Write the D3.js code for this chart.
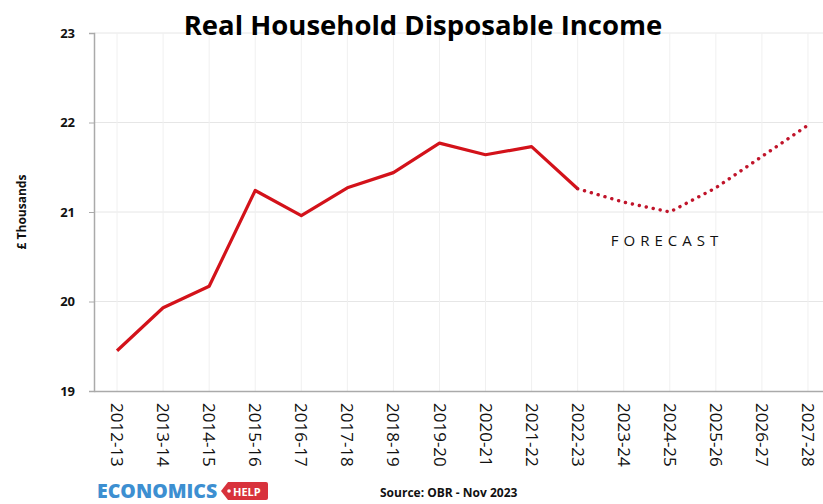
<!DOCTYPE html>
<html>
<head>
<meta charset="utf-8">
<script src="https://cdn.jsdelivr.net/npm/d3@7"></script>
<style>
  body { margin: 0; background: #fff; }
  svg { display: block; font-family: "Open Sans", sans-serif; }
</style>
</head>
<body>
<div id="chart"></div>
<script>
const years = ["2012-13","2013-14","2014-15","2015-16","2016-17","2017-18","2018-19","2019-20",
  "2020-21","2021-22","2022-23","2023-24","2024-25","2025-26","2026-27","2027-28"];
const income = [19.45, 19.93, 20.17, 21.24, 20.96, 21.27, 21.44, 21.77,
  21.64, 21.73, 21.26, 21.11, 21.00, 21.27, 21.62, 21.97];
const lastActual = "2022-23";
const yTicks = [19, 20, 21, 22, 23];

const width = 823, height = 504;
const margin = {top: 33, left: 94, bottom: 113};

const svg = d3.select("#chart").append("svg")
    .attr("width", width)
    .attr("height", height);

const x = d3.scaleBand().domain(years).range([margin.left, 831]);
const y = d3.scaleLinear().domain([19, 23]).range([height - margin.bottom, margin.top]);
const cx = d => x(d) + x.bandwidth() / 2;

// grid
svg.append("g").selectAll("line.h")
  .data(yTicks.slice(1))
  .join("line")
    .attr("x1", margin.left).attr("x2", width)
    .attr("y1", d => y(d)).attr("y2", d => y(d))
    .attr("stroke", "#e6e6e6");
svg.append("g").selectAll("line.v")
  .data(years)
  .join("line")
    .attr("x1", cx).attr("x2", cx)
    .attr("y1", y(23)).attr("y2", y(19))
    .attr("stroke", "#f0f0f0");

// y axis
const yAxis = svg.append("g")
    .attr("transform", "translate(" + margin.left + ",0)")
    .call(d3.axisLeft(y).tickValues(yTicks).tickFormat(d3.format("d")).tickSize(5).tickPadding(14));
yAxis.select(".domain").attr("stroke", "#aaa").attr("stroke-width", 1.5);
yAxis.selectAll(".tick line").attr("stroke", "#aaa");
yAxis.selectAll("text")
    .style("font-size", "13px").style("font-weight", "bold")
    .style("font-family", "Open Sans").attr("fill", "#111");

// x axis
const xAxis = svg.append("g")
    .attr("transform", "translate(0," + y(19) + ")")
    .call(d3.axisBottom(x).tickSize(0).tickSizeOuter(0));
xAxis.select(".domain").attr("stroke", "#aaa").attr("stroke-width", 1.5);
xAxis.selectAll("text")
    .attr("transform", "rotate(90)")
    .attr("x", 12).attr("y", 0).attr("dy", "0.35em")
    .style("text-anchor", "start")
    .style("font-size", "17px").style("font-family", "Open Sans")
    .attr("fill", "#111");

// lines
const line = d3.line().x(d => cx(d.year)).y(d => y(d.value));
const pts = years.map((yr, i) => ({year: yr, value: income[i]}));
const split = years.indexOf(lastActual);

svg.append("path")
    .datum(pts.slice(0, split + 1))
    .attr("d", line)
    .attr("fill", "none")
    .attr("stroke", "#d3121a")
    .attr("stroke-width", 3.2)
    .attr("stroke-linejoin", "round");

svg.append("path")
    .datum(pts.slice(split))
    .attr("d", line)
    .attr("fill", "none")
    .attr("stroke", "#c0142a")
    .attr("stroke-width", 3.4)
    .attr("stroke-linecap", "round")
    .attr("stroke-dasharray", "0.1 7");

// title and labels
svg.append("text")
    .attr("x", 423).attr("y", 35)
    .attr("text-anchor", "middle")
    .style("font-size", "27.5px").style("font-weight", "bold")
    .attr("fill", "#000")
    .text("Real Household Disposable Income");

svg.append("text")
    .attr("transform", "translate(26,212) rotate(-90)")
    .attr("text-anchor", "middle")
    .style("font-size", "12px").style("font-weight", "bold")
    .attr("fill", "#111")
    .text("£ Thousands");

svg.append("text")
    .attr("x", 667).attr("y", 246)
    .attr("text-anchor", "middle")
    .style("font-size", "15px").style("letter-spacing", "5px")
    .attr("fill", "#111")
    .text("FORECAST");

svg.append("text")
    .attr("x", 380).attr("y", 497)
    .style("font-size", "12px").style("font-weight", "bold")
    .attr("fill", "#111")
    .text("Source: OBR - Nov 2023");

// logo
svg.append("text")
    .attr("x", 97).attr("y", 498)
    .style("font-size", "19.5px").style("font-weight", "800")
    .attr("fill", "#3d8fd1")
    .text("ECONOMICS");
svg.append("path")
    .attr("d", "M221,491 L228,482 L266,482 Q268,482 268,484 L268,498 Q268,500 266,500 L228,500 Z")
    .attr("fill", "#d8323c");
svg.append("circle").attr("cx", 229).attr("cy", 491).attr("r", 1.8).attr("fill", "#fff");
svg.append("text")
    .attr("x", 233).attr("y", 496)
    .style("font-size", "11px").style("font-weight", "bold")
    .attr("fill", "#fff")
    .text("HELP");
</script>
</body>
</html>
